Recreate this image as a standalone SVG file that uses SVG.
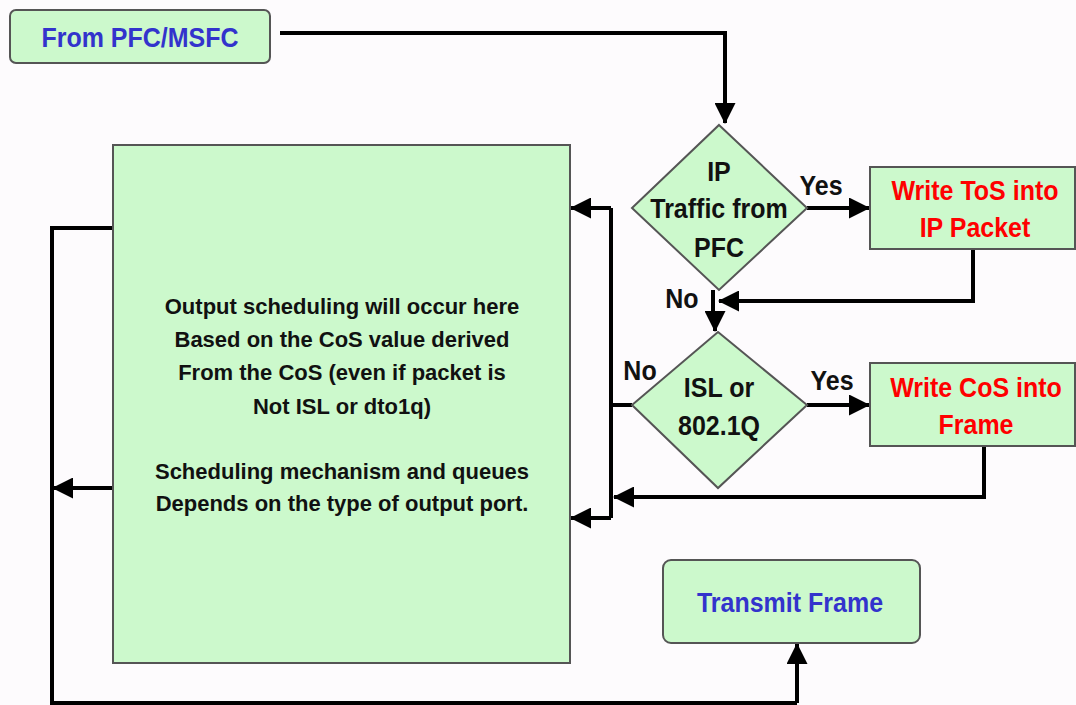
<svg xmlns="http://www.w3.org/2000/svg" width="1076" height="705" viewBox="0 0 1076 705">
<defs>
<style>
.box{fill:#ccf9cc;stroke:#555;stroke-width:2}
.t{font-family:"Liberation Sans",Arial,sans-serif;font-weight:bold;text-anchor:middle}
.blue{fill:#3333cc;font-size:25px}
.red{fill:#ff0000;font-size:25px}
.blk{fill:#111;font-size:25px}
.sm{fill:#111;font-size:22px}
.lab{fill:#111;font-size:25px}
.ln{fill:none;stroke:#000;stroke-width:4}
.arr{marker-end:url(#ah)}
</style>
<marker id="ah" markerUnits="userSpaceOnUse" markerWidth="21" markerHeight="21" refX="20" refY="10.5" orient="auto">
<path d="M0,0 L21,10.5 L0,21 z" fill="#000"/>
</marker>
</defs>
<rect width="1076" height="705" fill="#fdfbfd"/>
<g id="connectors">
<path class="ln arr" d="M280,33 H725 V123"/>
<path class="ln arr" d="M807,208 H869"/>
<path class="ln arr" d="M973,249 V301 H719"/>
<path class="ln" d="M713,290 V312"/>
<path class="ln arr" d="M715,312 V331"/>
<path class="ln arr" d="M807,405 H869"/>
<path class="ln arr" d="M984,446 V497 H614"/>
<path class="ln" d="M632,405 H611"/>
<path class="ln" d="M611,208 V518"/>
<path class="ln arr" d="M611,208 H571"/>
<path class="ln arr" d="M611,518 H571"/>
<path class="ln arr" d="M797,703 V644"/>
<path class="ln" d="M113,228 H52 V703 H797"/>
<path class="ln arr" d="M113,488 H53"/>
</g>
<g id="from">
<rect class="box" x="10" y="10" width="260" height="53" rx="6"/>
<text class="t blue" x="140" y="47" transform="matrix(1,0,0,1.12,0,-5.64)">From PFC/MSFC</text>
</g>
<g id="ipTraffic">
<polygon class="box" points="719,125 807,208 719,290 632,208"/>
<text class="t blk" x="719" y="181" transform="matrix(1,0,0,1.12,0,-21.72)">IP</text>
<text class="t blk" x="719" y="218" transform="matrix(1,0,0,1.12,0,-26.16)">Traffic from</text>
<text class="t blk" x="719" y="257" transform="matrix(1,0,0,1.12,0,-30.84)">PFC</text>
</g>
<g id="writeTos">
<rect class="box" x="870" y="167" width="205" height="82"/>
<text class="t red" x="975" y="200" transform="matrix(1,0,0,1.12,0,-24)">Write ToS into</text>
<text class="t red" x="975" y="237" transform="matrix(1,0,0,1.12,0,-28.44)">IP Packet</text>
</g>
<g id="islDot1q">
<polygon class="box" points="718,332 807,405 718,488 632,405"/>
<text class="t blk" x="719" y="397" transform="matrix(1,0,0,1.12,0,-47.64)">ISL or</text>
<text class="t blk" x="719" y="435" transform="matrix(1,0,0,1.12,0,-52.2)">802.1Q</text>
</g>
<g id="writeCos">
<rect class="box" x="870" y="363" width="205" height="83"/>
<text class="t red" x="976" y="397" transform="matrix(1,0,0,1.12,0,-47.64)">Write CoS into</text>
<text class="t red" x="976" y="434" transform="matrix(1,0,0,1.12,0,-52.08)">Frame</text>
</g>
<g id="scheduler">
<rect class="box" x="113" y="145" width="457" height="518"/>
<text class="t sm" x="342" y="314">Output scheduling will occur here</text>
<text class="t sm" x="342" y="347">Based on the CoS value derived</text>
<text class="t sm" x="342" y="380">From the CoS (even if packet is</text>
<text class="t sm" x="342" y="414">Not ISL or dto1q)</text>
<text class="t sm" x="342" y="479">Scheduling mechanism and queues</text>
<text class="t sm" x="342" y="511">Depends on the type of output port.</text>
</g>
<g id="transmit">
<rect class="box" x="663" y="560" width="257" height="83" rx="8"/>
<text class="t blue" x="790" y="612" transform="matrix(1,0,0,1.12,0,-73.44)">Transmit Frame</text>
</g>
<g id="labels">
<text class="t lab" x="821" y="195" transform="matrix(1,0,0,1.12,0,-23.4)">Yes</text>
<text class="t lab" x="682" y="308" transform="matrix(1,0,0,1.12,0,-36.96)">No</text>
<text class="t lab" x="832" y="390" transform="matrix(1,0,0,1.12,0,-46.8)">Yes</text>
<text class="t lab" x="640" y="380" transform="matrix(1,0,0,1.12,0,-45.6)">No</text>
</g>
</svg>
